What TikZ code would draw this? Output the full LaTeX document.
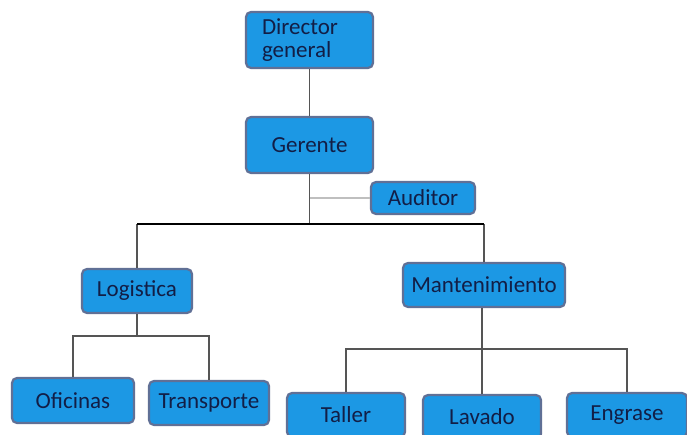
\documentclass[tikz,border=0pt]{standalone}
\usepackage{fontspec}
\setmainfont{Carlito}
\usepackage{tikz}
\definecolor{boxfill}{RGB}{28,152,228}
\definecolor{boxedge}{RGB}{96,112,150}
\definecolor{boxtext}{RGB}{18,30,70}
\definecolor{linegray}{RGB}{85,85,85}

\begin{document}
\begin{tikzpicture}[x=1pt,y=-1pt,
  box/.style={rectangle,rounded corners=5pt,draw=boxedge,line width=2.2pt,fill=boxfill,
    text=boxtext,font=\fontsize{23}{26}\selectfont,inner sep=0pt},
  link/.style={draw=linegray,line width=1.7pt}]
\clip (0,0) rectangle (687,435);
\fill[white] (0,0) rectangle (687,435);
\node [box,minimum width=127,minimum height=56,text width=95,align=left] (dir) at (309.5,40) {Director\\[-3pt]general};
\node [box,minimum width=127,minimum height=56] (ger) at (309.5,145) {Gerente};
\node [box,minimum width=104,minimum height=32] (aud) at (423,198) {Auditor};
\node [box,minimum width=110,minimum height=44] (log) at (137,291) {Logistica};
\node [box,minimum width=162,minimum height=44] (man) at (484,285) {Mantenimiento};
\node [box,minimum width=122,minimum height=45] (ofi) at (73,400.5) {Oficinas};
\node [box,minimum width=120,minimum height=44] (tra) at (209,403) {Transporte};
\node [box,minimum width=118,minimum height=44] (tal) at (346,415) {Taller};
\node [box,minimum width=118,minimum height=44] (lav) at (482,417) {Lavado};
\node [box,minimum width=120,minimum height=44] (eng) at (627,415) {Engrase};
\coordinate (bus) at (309.5,224);
\coordinate (logbus) at (137,336);
\coordinate (manbus) at (482,349);
\draw [link] (dir) -- (ger);
\draw [link] (ger) -- (bus);
\draw [draw=black!25,line width=1.2pt] (aud.west) -- (aud.west -| bus);
\draw [link] (log.north) -- (log.north |- bus);
\draw [link] (man.north) -- (man.north |- bus);
\draw [draw=black,line width=2pt] (log.north |- bus) -- (man.north |- bus);
\draw [link] (log) -- (logbus);
\draw [link] (ofi.north) |- (logbus) -| (tra.north);
\draw [link] (man.south -| manbus) -- (manbus);
\draw [link] (tal.north) |- (manbus) -| (eng.north);
\draw [link] (manbus) -- (lav.north -| manbus);
\end{tikzpicture}
\end{document}
